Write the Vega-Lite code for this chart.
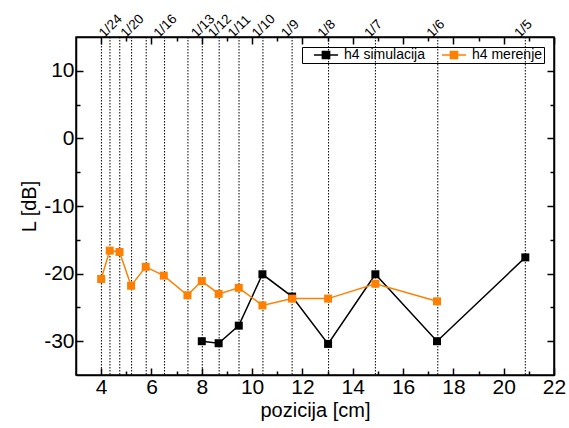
{
  "$schema": "https://vega.github.io/schema/vega-lite/v6.json",
  "width": 478,
  "height": 338,
  "autosize": "none",
  "padding": {"left": 76, "top": 37, "right": 15, "bottom": 53},
  "background": "white",
  "config": {
    "view": {"stroke": "black", "strokeWidth": 1.5},
    "font": "Liberation Sans",
    "axis": {"domainColor": "black", "domainWidth": 1.5, "tickColor": "black", "tickWidth": 1.5, "labelColor": "black", "titleColor": "black", "grid": false, "labelFont": "Liberation Sans", "titleFont": "Liberation Sans", "titleFontWeight": "normal"}
  },
  "datasets": {
    "fr": [
      {"x": 4.01}, {"x": 4.35}, {"x": 4.74}, {"x": 5.21}, {"x": 5.79}, {"x": 6.52},
      {"x": 7.45}, {"x": 8.02}, {"x": 8.69}, {"x": 9.48}, {"x": 10.43}, {"x": 11.59},
      {"x": 13.04}, {"x": 14.9}, {"x": 17.38}, {"x": 20.86}
    ],
    "pts": [
      {"x": 8.0, "y": -30.0, "s": "h4 simulacija"},
      {"x": 8.67, "y": -30.3, "s": "h4 simulacija"},
      {"x": 9.47, "y": -27.7, "s": "h4 simulacija"},
      {"x": 10.41, "y": -20.1, "s": "h4 simulacija"},
      {"x": 11.59, "y": -23.4, "s": "h4 simulacija"},
      {"x": 13.02, "y": -30.4, "s": "h4 simulacija"},
      {"x": 14.9, "y": -20.1, "s": "h4 simulacija"},
      {"x": 17.35, "y": -30.0, "s": "h4 simulacija"},
      {"x": 20.86, "y": -17.6, "s": "h4 simulacija"},
      {"x": 4.0, "y": -20.8, "s": "h4 merenje"},
      {"x": 4.34, "y": -16.6, "s": "h4 merenje"},
      {"x": 4.73, "y": -16.8, "s": "h4 merenje"},
      {"x": 5.19, "y": -21.8, "s": "h4 merenje"},
      {"x": 5.77, "y": -19.0, "s": "h4 merenje"},
      {"x": 6.49, "y": -20.3, "s": "h4 merenje"},
      {"x": 7.43, "y": -23.2, "s": "h4 merenje"},
      {"x": 8.0, "y": -21.1, "s": "h4 merenje"},
      {"x": 8.67, "y": -23.0, "s": "h4 merenje"},
      {"x": 9.47, "y": -22.1, "s": "h4 merenje"},
      {"x": 10.41, "y": -24.7, "s": "h4 merenje"},
      {"x": 11.59, "y": -23.7, "s": "h4 merenje"},
      {"x": 13.02, "y": -23.7, "s": "h4 merenje"},
      {"x": 14.9, "y": -21.5, "s": "h4 merenje"},
      {"x": 17.35, "y": -24.1, "s": "h4 merenje"}
    ]
  },
  "resolve": {"axis": {"x": "independent", "y": "independent"}},
  "layer": [
    {
      "data": {"name": "fr"},
      "mark": {"type": "rule", "color": "black", "strokeWidth": 1, "strokeDash": [1.5, 1.5]},
      "encoding": {
        "x": {
          "field": "x", "type": "quantitative",
          "scale": {"domain": [3, 22], "nice": false, "zero": false},
          "axis": {
            "orient": "top", "title": null, "domain": false, "ticks": false,
            "values": [4.35, 5.21, 6.52, 8.02, 8.69, 9.48, 10.43, 11.59, 13.04, 14.9, 17.38, 20.86],
            "labelExpr": "'1/' + round(104.3 / datum.value)",
            "labelAngle": -45, "labelAlign": "left", "labelBaseline": "middle",
            "labelFontSize": 13.5, "labelPadding": 2, "labelOffset": -9,
            "labelOverlap": false, "labelBound": false, "labelFlush": false
          }
        }
      }
    },
    {
      "data": {"name": "pts"},
      "mark": {"type": "line", "strokeWidth": 1.5},
      "encoding": {
        "x": {
          "field": "x", "type": "quantitative",
          "scale": {"domain": [3, 22], "nice": false, "zero": false},
          "axis": {
            "orient": "bottom", "title": "pozicija [cm]", "titleFontSize": 20, "titlePadding": 0,
            "values": [4, 5, 6, 7, 8, 9, 10, 11, 12, 13, 14, 15, 16, 17, 18, 19, 20, 21, 22],
            "labelExpr": "datum.value % 2 === 0 ? toString(datum.value) : ''",
            "tickSize": {"condition": {"test": "datum.value % 2 === 0", "value": -7}, "value": -4},
            "labelFontSize": 21, "labelPadding": 8,
            "labelOverlap": false, "labelFlush": false, "labelBound": false
          }
        },
        "y": {
          "field": "y", "type": "quantitative",
          "scale": {"domain": [-35, 15], "nice": false, "zero": false},
          "axis": {
            "orient": "left", "title": "L [dB]", "titleFontSize": 20, "titlePadding": 4,
            "values": [-30, -25, -20, -15, -10, -5, 0, 5, 10],
            "labelExpr": "datum.value % 10 === 0 ? toString(datum.value) : ''",
            "tickSize": {"condition": {"test": "datum.value % 10 === 0", "value": -7}, "value": -4},
            "labelFontSize": 21, "labelPadding": 9,
            "labelOverlap": false, "labelFlush": false, "labelBound": false
          }
        },
        "color": {
          "field": "s", "type": "nominal",
          "scale": {"domain": ["h4 simulacija", "h4 merenje"], "range": ["black", "#ff8000"]},
          "legend": {
            "title": null, "orient": "top-right", "offset": 10, "direction": "horizontal",
            "strokeColor": "black", "padding": 1, "labelFontSize": 14, "labelFont": "Liberation Sans",
            "labelColor": "black", "columnPadding": 6, "labelOffset": 11, "symbolOffset": 16,
            "symbolType": "M-2,0H2M-0.6,-0.6H0.6V0.6H-0.6Z", "symbolSize": 144, "symbolStrokeWidth": 1.5,
            "encode": {"symbols": {"update": {"fill": {"scale": "color", "field": "value"}, "stroke": {"scale": "color", "field": "value"}}}}
          }
        }
      }
    },
    {
      "data": {"name": "pts"},
      "mark": {"type": "point", "shape": "square", "filled": true, "size": 64, "opacity": 1},
      "encoding": {
        "x": {
          "field": "x", "type": "quantitative",
          "scale": {"domain": [3, 22], "nice": false, "zero": false},
          "axis": {
            "orient": "top", "title": null, "labels": false,
            "values": [4, 5, 6, 7, 8, 9, 10, 11, 12, 13, 14, 15, 16, 17, 18, 19, 20, 21, 22],
            "tickSize": {"condition": {"test": "datum.value % 2 === 0", "value": -7}, "value": -4}
          }
        },
        "y": {
          "field": "y", "type": "quantitative",
          "scale": {"domain": [-35, 15], "nice": false, "zero": false},
          "axis": {
            "orient": "right", "title": null, "labels": false,
            "values": [-30, -25, -20, -15, -10, -5, 0, 5, 10],
            "tickSize": {"condition": {"test": "datum.value % 10 === 0", "value": -7}, "value": -4}
          }
        },
        "color": {"field": "s", "type": "nominal"}
      }
    }
  ]
}
